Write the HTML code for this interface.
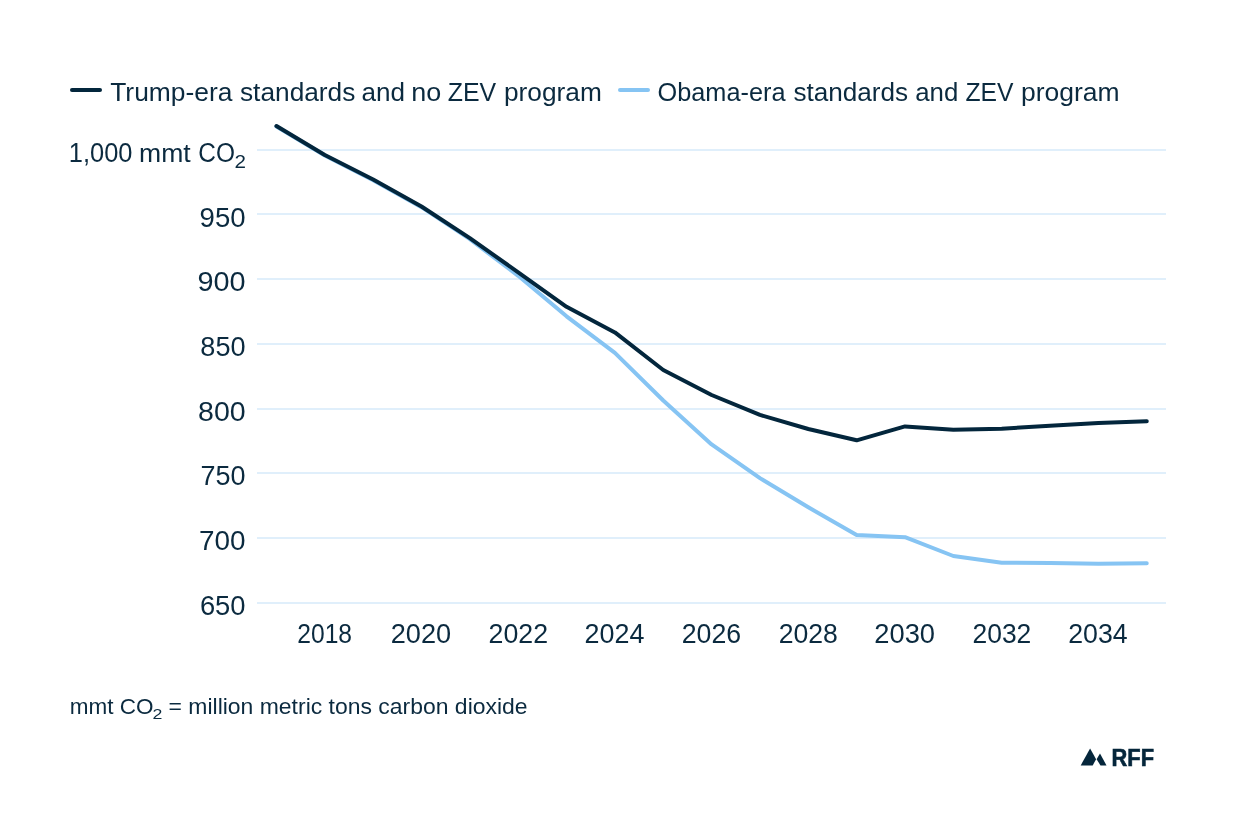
<!DOCTYPE html>
<html><head><meta charset="utf-8"><style>
html,body{margin:0;padding:0;background:#fff;width:1240px;height:840px;overflow:hidden}
svg{display:block;will-change:transform}
text{font-family:"Liberation Sans",sans-serif;fill:#0b2a3f}
</style></head><body>
<svg width="1240" height="840" viewBox="0 0 1240 840">
<rect width="1240" height="840" fill="#fff"/>
<rect x="257" y="149.00" width="909" height="2" fill="#e0effb"/>
<rect x="257" y="213.00" width="909" height="2" fill="#e0effb"/>
<rect x="257" y="278.00" width="909" height="2" fill="#e0effb"/>
<rect x="257" y="343.00" width="909" height="2" fill="#e0effb"/>
<rect x="257" y="408.00" width="909" height="2" fill="#e0effb"/>
<rect x="257" y="472.00" width="909" height="2" fill="#e0effb"/>
<rect x="257" y="537.00" width="909" height="2" fill="#e0effb"/>
<rect x="257" y="602.00" width="909" height="2" fill="#e0effb"/>
<path d="M276.45,126.50 L324.80,155.50 L373.15,180.20 L421.50,207.20 L469.85,239.20 L518.20,275.80 L566.55,316.30 L614.90,352.80 L663.25,400.50 L711.60,444.40 L759.95,478.10 L808.30,507.30 L856.65,535.10 L905.00,537.20 L953.35,556.00 L1001.70,562.70 L1050.05,562.90 L1098.40,563.70 L1146.75,563.30" fill="none" stroke="#86c4f3" stroke-width="4" stroke-linejoin="round" stroke-linecap="round"/>
<path d="M276.45,126.00 L324.80,155.00 L373.15,179.50 L421.50,206.50 L469.85,238.20 L518.20,272.30 L566.55,306.80 L614.90,332.40 L663.25,370.00 L711.60,395.00 L759.95,414.90 L808.30,429.00 L856.65,440.30 L905.00,426.40 L953.35,429.70 L1001.70,428.70 L1050.05,425.70 L1098.40,423.10 L1146.75,421.20" fill="none" stroke="#03263c" stroke-width="4" stroke-linejoin="round" stroke-linecap="round"/>
<line x1="72" y1="90" x2="100" y2="90" stroke="#03263c" stroke-width="4" stroke-linecap="round"/>
<line x1="620" y1="90" x2="648" y2="90" stroke="#86c4f3" stroke-width="4" stroke-linecap="round"/>
<text x="110.21" y="100.90" font-size="27" textLength="122.29" lengthAdjust="spacingAndGlyphs" transform="matrix(1 0 0 0.95 0 5.045)">Trump-era</text>
<text x="239.97" y="100.90" font-size="27" textLength="115.38" lengthAdjust="spacingAndGlyphs" transform="matrix(1 0 0 0.95 0 5.045)">standards</text>
<text x="361.59" y="100.90" font-size="27" textLength="43.49" lengthAdjust="spacingAndGlyphs" transform="matrix(1 0 0 0.95 0 5.045)">and</text>
<text x="411.31" y="100.90" font-size="27" textLength="30.02" lengthAdjust="spacingAndGlyphs" transform="matrix(1 0 0 0.95 0 5.045)">no</text>
<text x="447.71" y="100.90" font-size="27" textLength="48.40" lengthAdjust="spacingAndGlyphs" transform="matrix(1 0 0 0.95 0 5.045)">ZEV</text>
<text x="504.01" y="100.90" font-size="27" textLength="97.82" lengthAdjust="spacingAndGlyphs" transform="matrix(1 0 0 0.95 0 5.045)">program</text>
<text x="657.50" y="100.90" font-size="27" textLength="128.00" lengthAdjust="spacingAndGlyphs" transform="matrix(1 0 0 0.95 0 5.045)">Obama-era</text>
<text x="793.47" y="100.90" font-size="27" textLength="114.67" lengthAdjust="spacingAndGlyphs" transform="matrix(1 0 0 0.95 0 5.045)">standards</text>
<text x="915.20" y="100.90" font-size="27" textLength="43.06" lengthAdjust="spacingAndGlyphs" transform="matrix(1 0 0 0.95 0 5.045)">and</text>
<text x="965.52" y="100.90" font-size="27" textLength="48.09" lengthAdjust="spacingAndGlyphs" transform="matrix(1 0 0 0.95 0 5.045)">ZEV</text>
<text x="1020.99" y="100.90" font-size="27" textLength="98.65" lengthAdjust="spacingAndGlyphs" transform="matrix(1 0 0 0.95 0 5.045)">program</text>
<text x="68.86" y="161.80" font-size="27" textLength="63.63" lengthAdjust="spacingAndGlyphs">1,000</text>
<text x="139.04" y="161.80" font-size="27" textLength="51.66" lengthAdjust="spacingAndGlyphs" transform="matrix(1 0 0 0.95 0 8.090)">mmt</text>
<text x="198.36" y="161.80" font-size="27" textLength="36.61" lengthAdjust="spacingAndGlyphs">CO</text>
<text x="234.56" y="168.00" font-size="18.5" textLength="11.47" lengthAdjust="spacingAndGlyphs">2</text>
<text x="199.61" y="226.50" font-size="27" textLength="45.97" lengthAdjust="spacingAndGlyphs">950</text>
<text x="197.55" y="291.20" font-size="27" textLength="48.08" lengthAdjust="spacingAndGlyphs">900</text>
<text x="200.32" y="355.90" font-size="27" textLength="45.24" lengthAdjust="spacingAndGlyphs">850</text>
<text x="198.06" y="420.60" font-size="27" textLength="47.55" lengthAdjust="spacingAndGlyphs">800</text>
<text x="200.52" y="485.40" font-size="27" textLength="45.04" lengthAdjust="spacingAndGlyphs">750</text>
<text x="199.07" y="550.10" font-size="27" textLength="46.52" lengthAdjust="spacingAndGlyphs">700</text>
<text x="199.91" y="614.80" font-size="27" textLength="45.66" lengthAdjust="spacingAndGlyphs">650</text>
<text x="297.26" y="642.80" font-size="27" textLength="54.81" lengthAdjust="spacingAndGlyphs">2018</text>
<text x="390.73" y="642.80" font-size="27" textLength="60.43" lengthAdjust="spacingAndGlyphs">2020</text>
<text x="488.56" y="642.80" font-size="27" textLength="59.49" lengthAdjust="spacingAndGlyphs">2022</text>
<text x="584.55" y="642.80" font-size="27" textLength="59.84" lengthAdjust="spacingAndGlyphs">2024</text>
<text x="681.76" y="642.80" font-size="27" textLength="59.42" lengthAdjust="spacingAndGlyphs">2026</text>
<text x="778.66" y="642.80" font-size="27" textLength="59.19" lengthAdjust="spacingAndGlyphs">2028</text>
<text x="874.33" y="642.80" font-size="27" textLength="60.74" lengthAdjust="spacingAndGlyphs">2030</text>
<text x="972.47" y="642.80" font-size="27" textLength="58.86" lengthAdjust="spacingAndGlyphs">2032</text>
<text x="1068.26" y="642.80" font-size="27" textLength="59.43" lengthAdjust="spacingAndGlyphs">2034</text>
<text x="69.71" y="713.70" font-size="23" textLength="83.67" lengthAdjust="spacingAndGlyphs" transform="matrix(1 0 0 0.95 0 35.685)">mmt CO</text>
<text x="152.61" y="718.90" font-size="15.3" textLength="9.89" lengthAdjust="spacingAndGlyphs">2</text>
<text x="168.58" y="713.70" font-size="23" textLength="359.04" lengthAdjust="spacingAndGlyphs" transform="matrix(1 0 0 0.95 0 35.685)">= million metric tons carbon dioxide</text>
<text x="1111.54" y="765.60" font-size="24" font-weight="bold" textLength="42.46" lengthAdjust="spacingAndGlyphs" stroke="#05263b" stroke-width="0.6" style="fill:#05263b">RFF</text>
<polygon points="1080.7,765.4 1090.1,748.6 1096.1,759.2 1092.7,765.4" fill="#05263b"/>
<polygon points="1096.6,759.2 1100,753.6 1106.5,765.4 1100.5,765.4" fill="#05263b"/>
</svg>
</body></html>
